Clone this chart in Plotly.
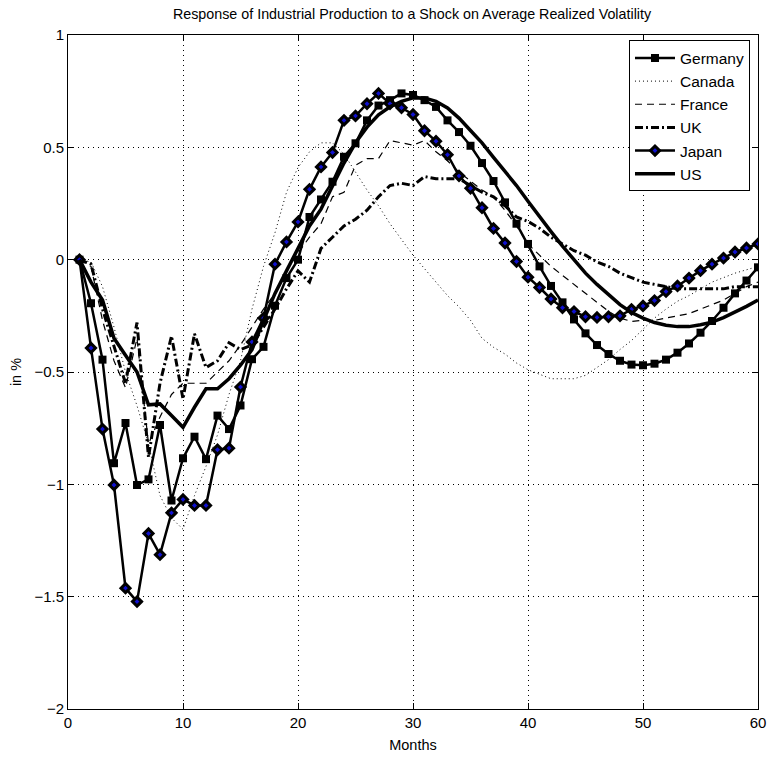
import plotly.graph_objects as go

months = list(range(1, 61))

germany = [0, -0.194, -0.445, -0.906, -0.727, -1.003, -0.978, -0.736, -1.072, -0.884,
           -0.788, -0.888, -0.694, -0.754, -0.649, -0.443, -0.388, -0.205, -0.082, 0.0,
           0.19, 0.268, 0.347, 0.458, 0.518, 0.62, 0.686, 0.71, 0.74, 0.733,
           0.71, 0.68, 0.62, 0.568, 0.507, 0.43, 0.35, 0.255, 0.16, 0.07,
           -0.03, -0.117, -0.19, -0.266, -0.328, -0.38, -0.42, -0.45, -0.467, -0.47,
           -0.463, -0.445, -0.414, -0.373, -0.325, -0.273, -0.214, -0.15, -0.093, -0.034]

canada = [0, -0.01, -0.12, -0.3, -0.5, -0.65, -0.82, -1.05, -1.15, -1.2,
          -1.05, -0.92, -0.78, -0.6, -0.45, -0.22, -0.03, 0.12, 0.3, 0.41,
          0.48, 0.52, 0.52, 0.47, 0.39, 0.31, 0.24, 0.16, 0.09, 0.02,
          -0.04, -0.1, -0.16, -0.21, -0.27, -0.35, -0.39, -0.42, -0.46, -0.49,
          -0.51, -0.53, -0.53, -0.53, -0.515, -0.48, -0.445, -0.4, -0.36, -0.31,
          -0.26, -0.22, -0.185, -0.16, -0.13, -0.1, -0.08, -0.06, -0.045, -0.03]

france = [0, -0.03, -0.27, -0.45, -0.57, -0.35, -0.82, -0.7, -0.6, -0.55,
          -0.55, -0.55, -0.5, -0.45, -0.38, -0.3, -0.22, -0.15, -0.05, 0.03,
          0.1, 0.16, 0.28, 0.3, 0.42, 0.45, 0.45, 0.53, 0.52, 0.51,
          0.53, 0.48, 0.44, 0.39, 0.35, 0.31, 0.28, 0.22, 0.15, 0.07,
          0.02, -0.03, -0.07, -0.11, -0.15, -0.19, -0.23, -0.26, -0.275, -0.27,
          -0.27, -0.26, -0.25, -0.24, -0.22, -0.2, -0.18, -0.15, -0.12, -0.1]

uk = [0, -0.02, -0.22, -0.38, -0.55, -0.28, -0.88, -0.55, -0.34, -0.62,
      -0.33, -0.48, -0.45, -0.37, -0.4, -0.38, -0.3, -0.22, -0.13, -0.05,
      -0.1, 0.05, 0.1, 0.15, 0.18, 0.22, 0.28, 0.33, 0.34, 0.33,
      0.37, 0.36, 0.36, 0.36, 0.33, 0.3, 0.28, 0.24, 0.19, 0.17,
      0.14, 0.1, 0.07, 0.04, 0.02, -0.01, -0.03, -0.06, -0.08, -0.1,
      -0.11, -0.12, -0.13, -0.13, -0.13, -0.13, -0.13, -0.12, -0.12, -0.12]

japan = [0, -0.393, -0.754, -1.003, -1.462, -1.522, -1.219, -1.313, -1.127, -1.067,
         -1.094, -1.094, -0.846, -0.839, -0.567, -0.366, -0.26, -0.02, 0.079, 0.168,
         0.313, 0.413, 0.477, 0.62, 0.64, 0.694, 0.74, 0.694, 0.676, 0.646,
         0.574, 0.527, 0.467, 0.373, 0.318, 0.231, 0.139, 0.074, -0.008, -0.078,
         -0.124, -0.175, -0.214, -0.231, -0.254, -0.257, -0.254, -0.25, -0.221, -0.206,
         -0.182, -0.142, -0.117, -0.082, -0.049, -0.02, 0.007, 0.034, 0.052, 0.07]

us = [0, -0.1, -0.18, -0.35, -0.425, -0.5, -0.646, -0.642, -0.694, -0.746,
      -0.657, -0.575, -0.575, -0.53, -0.47, -0.4, -0.27, -0.15, -0.05, 0.05,
      0.15, 0.225, 0.325, 0.43, 0.52, 0.59, 0.645, 0.68, 0.705, 0.72,
      0.72, 0.705, 0.675, 0.63, 0.575, 0.52, 0.455, 0.395, 0.33, 0.26,
      0.19, 0.125, 0.06, 0.0, -0.06, -0.11, -0.155, -0.2, -0.235, -0.26,
      -0.28, -0.292, -0.298, -0.298, -0.29, -0.278, -0.258, -0.235, -0.208, -0.18]

y_ticks = [-2, -1.5, -1, -0.5, 0, 0.5, 1]
x_ticks = [0, 10, 20, 30, 40, 50, 60]

FONT = "Liberation Sans, Arial, Helvetica, sans-serif"

fig = go.Figure()
fig.add_trace(go.Scatter(x=months, y=germany, name="Germany", mode="lines+markers",
                         line=dict(color="black", width=2.5),
                         marker=dict(symbol="square", size=8, color="black")))
fig.add_trace(go.Scatter(x=months, y=canada, name="Canada", mode="lines",
                         line=dict(color="black", width=1, dash="1px,3px")))
fig.add_trace(go.Scatter(x=months, y=france, name="France", mode="lines",
                         line=dict(color="black", width=1.2, dash="7px,5px")))
fig.add_trace(go.Scatter(x=months, y=uk, name="UK", mode="lines",
                         line=dict(color="black", width=3, dash="8px,3px,2px,3px")))
fig.add_trace(go.Scatter(x=months, y=japan, name="Japan", mode="lines+markers",
                         line=dict(color="black", width=2.5),
                         marker=dict(symbol="diamond", size=7, color="#1010d0",
                                     line=dict(color="black", width=3))))
fig.add_trace(go.Scatter(x=months, y=us, name="US", mode="lines",
                         line=dict(color="black", width=3.5)))

axis_common = dict(showline=True, linecolor="black", linewidth=1, mirror="allticks",
                   ticks="inside", ticklen=6, tickcolor="black", automargin=False,
                   showgrid=True, gridcolor="black", gridwidth=1, griddash="1px,4px",
                   zeroline=False, tickfont=dict(family=FONT, size=15, color="black"))

fig.update_xaxes(range=[0, 60], tickvals=x_ticks,
                 title=dict(text="Months", font=dict(family=FONT, size=14.5, color="black"), standoff=9),
                 **axis_common)
fig.update_yaxes(range=[-2, 1], tickvals=y_ticks,
                 title=dict(text="in %", font=dict(family=FONT, size=14.5, color="black"), standoff=9),
                 **axis_common)

fig.update_layout(
    width=767, height=757,
    margin=dict(l=68, r=9, t=35, b=48),
    paper_bgcolor="white", plot_bgcolor="white",
    title=dict(text="Response of Industrial Production to a Shock on Average Realized Volatility",
               x=0.5372, xanchor="center", y=0.988, yanchor="top",
               font=dict(family=FONT, size=14.3, color="black")),
    legend=dict(x=0.9884, y=0.992, xanchor="right", yanchor="top",
                bgcolor="white", bordercolor="black", borderwidth=1,
                font=dict(family=FONT, size=15.5, color="black"),
                itemwidth=40, tracegroupgap=0),
    showlegend=True,
)

# remove the default page margin so the 767x757 figure fills the window exactly
fig.write_html(
    "out.html",
    config={"displayModeBar": False},
    post_script="document.body.style.margin='0';"
                "document.documentElement.style.overflow='hidden';"
                "document.body.style.overflow='hidden';",
)
